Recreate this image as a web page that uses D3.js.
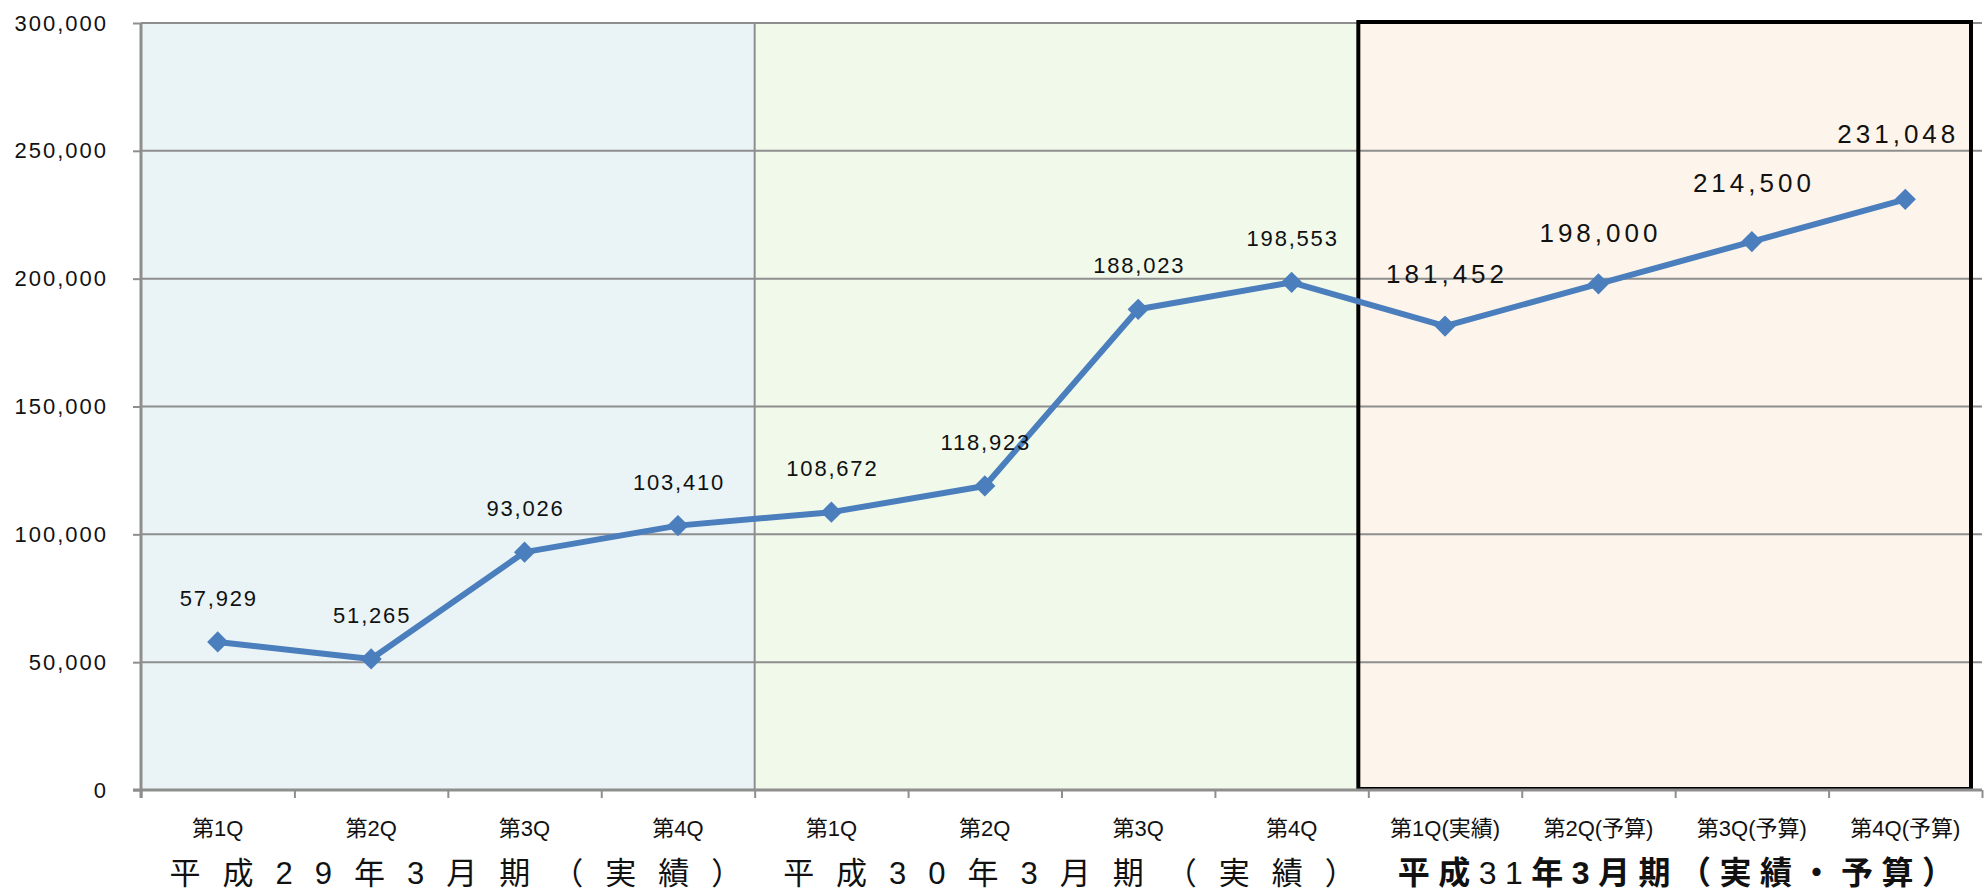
<!DOCTYPE html>
<html><head><meta charset="utf-8">
<script src="https://cdn.jsdelivr.net/npm/d3@7"></script>
<style>
html,body{margin:0;padding:0;background:#fff;}
svg{display:block;}
</style></head>
<body>
<svg id="chart" width="1984" height="893"></svg>
<script>
// ---- data ----
const categories = ["第1Q","第2Q","第3Q","第4Q","第1Q","第2Q","第3Q","第4Q","第1Q(実績)","第2Q(予算)","第3Q(予算)","第4Q(予算)"];
const values = [57929,51265,93026,103410,108672,118923,188023,198553,181452,198000,214500,231048];
const groupLabels = ["平成29年3月期（実績）","平成30年3月期（実績）","平成31年3月期（実績・予算）"];
const yTicks = [0,50000,100000,150000,200000,250000,300000];
const highlightFrom = 8; // forecast-period points use larger labels

// ---- layout / style ----
const W = 1984, H = 893;
const plot = {left:141, right:1982, top:23, bottom:790};
const groupFills = ["#EAF4F6","#F0F9EA","#FDF5EC"];
const lineColor = "#4A7EBD";
const gridColor = "#8E8E8E";
const labelLift = [44,44,44,44,44,44,44,44,52,51,59,66];
const labelShift = [0,0,0,0,0,0,0,0,0,0,0,-9];

const svg = d3.select("#chart");
const x = d3.scaleBand().domain(d3.range(categories.length)).range([plot.left, plot.right]);
const y = d3.scaleLinear().domain([0,300000]).range([plot.bottom, plot.top]);
const bw = x.bandwidth();
const cx = i => x(i) + bw/2;

// group backgrounds
const g0x0 = x(0), g1x0 = x(4), g2x0 = x(8);
const boxLeft = g2x0 - 10, boxRight = plot.right - 11;
svg.append("rect").attr("x",g0x0).attr("y",plot.top).attr("width",g1x0-g0x0).attr("height",plot.bottom-plot.top).attr("fill",groupFills[0]);
svg.append("rect").attr("x",g1x0).attr("y",plot.top).attr("width",boxLeft-g1x0).attr("height",plot.bottom-plot.top).attr("fill",groupFills[1]);
svg.append("rect").attr("x",boxLeft).attr("y",plot.top-1).attr("width",boxRight-boxLeft).attr("height",plot.bottom-plot.top).attr("fill",groupFills[2]);

// gridlines
svg.append("g").selectAll("line").data(yTicks.filter(d=>d>0)).join("line")
  .attr("x1",plot.left).attr("x2",plot.right)
  .attr("y1",d=>y(d)).attr("y2",d=>y(d))
  .attr("stroke",gridColor).attr("stroke-width",2);

// separator between first two groups
svg.append("line").attr("x1",g1x0).attr("x2",g1x0).attr("y1",plot.top).attr("y2",plot.bottom)
  .attr("stroke",gridColor).attr("stroke-width",2);

// highlighted box
svg.append("rect").attr("x",boxLeft).attr("y",plot.top-1).attr("width",boxRight-boxLeft).attr("height",plot.bottom-plot.top)
  .attr("fill","none").attr("stroke","#000").attr("stroke-width",4);

// y axis
const yAxis = d3.axisLeft(y).tickValues(yTicks).tickSize(8).tickPadding(0).tickFormat(d3.format(","));
const ya = svg.append("g").attr("transform",`translate(${plot.left},0)`).call(yAxis);
ya.select(".domain").attr("stroke",gridColor).attr("stroke-width",3).attr("d",`M0,${plot.top}V${plot.bottom+8}`);
ya.selectAll(".tick line").attr("stroke",gridColor).attr("stroke-width",2);
ya.selectAll(".tick text").attr("x",-33).attr("fill","#111")
  .style("font-family","'Liberation Sans',Arial,sans-serif").style("font-size","22px").style("letter-spacing","2px");

// x axis (boundary ticks)
const xb = d3.scaleLinear().domain([0,categories.length]).range([plot.left, plot.right]);
const xAxis = d3.axisBottom(xb).tickValues(d3.range(categories.length+1)).tickSize(8).tickFormat("");
const xa = svg.append("g").attr("transform",`translate(0,${plot.bottom})`).call(xAxis);
xa.select(".domain").attr("stroke",gridColor).attr("stroke-width",3).attr("d",`M${plot.left-8},0H${plot.right}`);
xa.selectAll(".tick line").attr("stroke",gridColor).attr("stroke-width",2);

// category labels
svg.append("g").selectAll("text").data(categories).join("text")
  .attr("x",(d,i)=>cx(i)).attr("y",836).attr("text-anchor","middle")
  .attr("fill","#111")
  .style("font-family","'Liberation Sans Narrow','Liberation Sans','Noto Sans CJK JP',sans-serif")
  .style("font-size","22px")
  .text(d=>d);

// group labels
const gl = svg.append("g").style("font-family","'Liberation Sans','Noto Sans CJK JP',sans-serif").attr("fill","#111");
[0,1].forEach(g=>{
  gl.append("text").attr("x",x(4*g)+2*bw+19).attr("y",884).attr("text-anchor","middle")
    .style("font-size","31px").style("letter-spacing","22px").text(groupLabels[g]);
});
{
  const t = gl.append("text").attr("x",x(8)+2*bw+5).attr("y",884).attr("text-anchor","middle")
    .style("font-size","32px").style("letter-spacing","8.5px");
  const s = groupLabels[2];
  const parts = [[s.slice(0,2),700],[s.slice(2,4),400],[s.slice(4),700]];
  parts.forEach(p=>t.append("tspan").style("font-weight",p[1]).text(p[0]));
}

// line
svg.append("path").datum(values)
  .attr("d",d3.line().x((d,i)=>cx(i)).y(d=>y(d)))
  .attr("fill","none").attr("stroke",lineColor).attr("stroke-width",6).attr("stroke-linejoin","round");

// markers (diamonds)
svg.append("g").selectAll("rect").data(values).join("rect")
  .attr("x",-7.5).attr("y",-7.5).attr("width",15).attr("height",15)
  .attr("transform",(d,i)=>`translate(${cx(i)},${y(d)}) rotate(45)`)
  .attr("fill",lineColor);

// data labels
svg.append("g").selectAll("text").data(values).join("text")
  .attr("x",(d,i)=>cx(i)+labelShift[i] + (i>=highlightFrom?2:1))
  .attr("y",(d,i)=>y(d)-labelLift[i])
  .attr("dy","0.36em")
  .attr("text-anchor","middle").attr("fill","#111")
  .style("font-family","'Liberation Sans',Arial,sans-serif")
  .style("font-size",(d,i)=>i>=highlightFrom?"26px":"22px")
  .style("letter-spacing",(d,i)=>i>=highlightFrom?"4px":"1.8px")
  .text(d=>d3.format(",")(d));
</script>
</body></html>
